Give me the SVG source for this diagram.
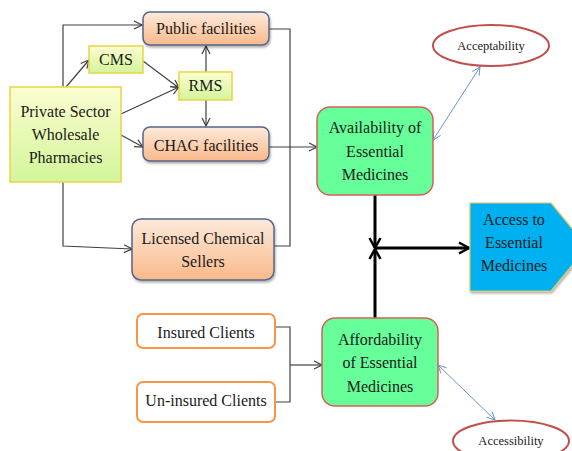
<svg xmlns="http://www.w3.org/2000/svg" width="572" height="451" viewBox="0 0 572 451" font-family="Liberation Serif, serif">
<defs>
<linearGradient id="gOr" x1="0" y1="0" x2="0" y2="1">
<stop offset="0" stop-color="#fdeadb"/><stop offset="1" stop-color="#f9b98a"/>
</linearGradient>
<linearGradient id="gYg" x1="0" y1="0" x2="0" y2="1">
<stop offset="0" stop-color="#fbfdd0"/><stop offset="1" stop-color="#d3f59a"/>
</linearGradient>
<filter id="sh" x="-10%" y="-10%" width="130%" height="130%">
<feDropShadow dx="1" dy="2" stdDeviation="1.2" flood-color="#000" flood-opacity="0.3"/>
</filter>
<marker id="aG" markerWidth="10" markerHeight="10" refX="9" refY="5" orient="auto" markerUnits="userSpaceOnUse">
<path d="M1,1 L9,5 L1,9" fill="none" stroke="#404040" stroke-width="1.2"/>
</marker>
<marker id="aK" markerWidth="14" markerHeight="14" refX="12" refY="7" orient="auto" markerUnits="userSpaceOnUse">
<path d="M2,1.5 L12,7 L2,12.5" fill="none" stroke="#000" stroke-width="2.5"/>
</marker>
<marker id="aB" markerWidth="10" markerHeight="10" refX="9" refY="5" orient="auto-start-reverse" markerUnits="userSpaceOnUse">
<path d="M1,1 L9,5 L1,9" fill="none" stroke="#6a96d0" stroke-width="1"/>
</marker>
</defs>
<style>
text{fill:#1a1a1a;text-anchor:middle;font-size:16px}
.or{fill:url(#gOr);stroke:#56658a;stroke-width:1.5}
.yg{fill:url(#gYg);stroke:#e8d54a;stroke-width:1.5}
.gr{fill:#66ff99;stroke:#d9605a;stroke-width:1.5}
.wo{fill:#fff;stroke:#f79646;stroke-width:2}
.el{fill:#fff;stroke:#c0504d;stroke-width:2}
.c{fill:none;stroke:#404040;stroke-width:1.2}
.k{fill:none;stroke:#000;stroke-width:3}
.b{fill:none;stroke:#6a96d0;stroke-width:1}
.sm{font-size:12.5px}
</style>
<g id="connectors">
<path class="c" d="M63,87 V25 H142" marker-end="url(#aG)"/>
<path class="c" d="M66,87 L89,60" marker-end="url(#aG)"/>
<path class="c" d="M143,61 L179,88" marker-end="url(#aG)"/>
<path class="c" d="M121,114 L179,87" marker-end="url(#aG)"/>
<path class="c" d="M121,135 L143,147" marker-end="url(#aG)"/>
<path class="c" d="M206,72 V46" marker-end="url(#aG)"/>
<path class="c" d="M206,100 V126" marker-end="url(#aG)"/>
<path class="c" d="M63,182 V246 L132,249" marker-end="url(#aG)"/>
<path class="c" d="M269,29 H290 V246 H274"/>
<path class="c" d="M269,147 H317" marker-end="url(#aG)"/>
<path class="c" d="M275,327 H290 V402 H275"/>
<path class="c" d="M290,365 H322" marker-end="url(#aG)"/>
<path class="k" d="M375,195 V248" marker-end="url(#aK)"/>
<path class="k" d="M375,318 V249" marker-end="url(#aK)"/>
<path class="k" d="M375,248 H469" marker-end="url(#aK)"/>
<path class="b" d="M433,140 L480,67" marker-start="url(#aB)" marker-end="url(#aB)"/>
<path class="b" d="M438,365 L495,420" marker-start="url(#aB)" marker-end="url(#aB)"/>
</g>
<g id="public">
<rect class="or" x="143" y="12" width="126" height="33" rx="7" filter="url(#sh)"/>
<text x="206" y="34">Public facilities</text>
</g>
<g id="cms">
<rect class="yg" x="89" y="46" width="54" height="27"/>
<text x="116" y="65">CMS</text>
</g>
<g id="rms">
<rect class="yg" x="179" y="72" width="53" height="28"/>
<text x="205.5" y="91">RMS</text>
</g>
<g id="private">
<rect class="yg" x="10" y="87" width="111" height="95"/>
<text x="65.5" y="117">Private Sector</text>
<text x="65.5" y="140">Wholesale</text>
<text x="65.5" y="163">Pharmacies</text>
</g>
<g id="chag">
<rect class="or" x="143" y="127" width="126" height="34" rx="7" filter="url(#sh)"/>
<text x="206" y="151">CHAG facilities</text>
</g>
<g id="licensed">
<rect class="or" x="132" y="219" width="142" height="61" rx="9" filter="url(#sh)"/>
<text x="203" y="244">Licensed Chemical</text>
<text x="203" y="267">Sellers</text>
</g>
<g id="insured">
<rect class="wo" x="137" y="314" width="138" height="34" rx="6"/>
<text x="206" y="338">Insured Clients</text>
</g>
<g id="uninsured">
<rect class="wo" x="137" y="382" width="138" height="40" rx="6"/>
<text x="206" y="406">Un-insured Clients</text>
</g>
<g id="availability">
<rect class="gr" x="317" y="107" width="116" height="88" rx="13"/>
<text x="375" y="133">Availability of</text>
<text x="375" y="157">Essential</text>
<text x="375" y="180">Medicines</text>
</g>
<g id="affordability">
<rect class="gr" x="322" y="318" width="116" height="88" rx="13"/>
<text x="380" y="345">Affordability</text>
<text x="380" y="368">of Essential</text>
<text x="380" y="392">Medicines</text>
</g>
<g id="access">
<path d="M470,203 H551 L587,247 L551,291 H470 Z" fill="#00b0f0" stroke="#d8c860" stroke-width="1.2" filter="url(#sh)"/>
<text x="514" y="225">Access to</text>
<text x="514" y="248">Essential</text>
<text x="514" y="271">Medicines</text>
</g>
<g id="acceptability">
<ellipse class="el" cx="491" cy="45.5" rx="58" ry="20.5"/>
<text class="sm" x="491" y="50">Acceptability</text>
</g>
<g id="accessibility">
<ellipse class="el" cx="511" cy="441" rx="58" ry="20.5"/>
<text class="sm" x="511" y="445">Accessibility</text>
</g>
</svg>
